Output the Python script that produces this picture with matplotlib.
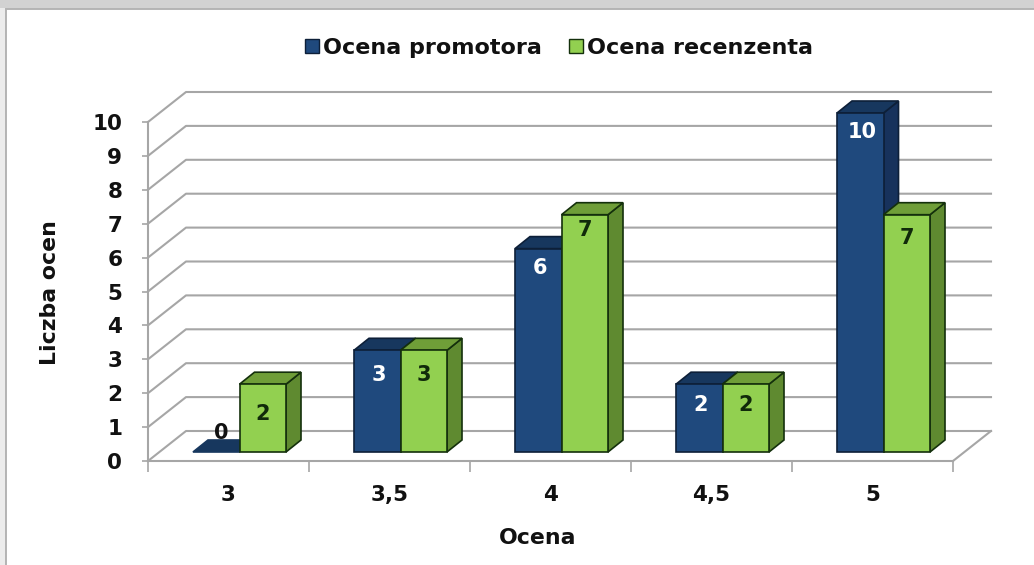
import matplotlib
matplotlib.use('Agg')
import matplotlib.pyplot as plt
from matplotlib.patches import Rectangle, Patch

plt.rcParams['font.family'] = ['DejaVu Sans']
plt.rcParams['font.weight'] = 'bold'

# Dane
oceny = ['3', '3,5', '4', '4,5', '5']
promotor = [0, 3, 6, 2, 10]
recenzent = [2, 3, 7, 2, 7]
y_ticks = [0, 1, 2, 3, 4, 5, 6, 7, 8, 9, 10]

W, H = 1034, 565
grid_c = '#a6a6a6'
text_c = '#111111'

# glebokosc sciany i slupkow (jednostki osi)
wall_dx = 38 / 161
wall_dy = 30 / 33.9
bar_w = 46.5 / 161
shift_x = 11 / 161
shift_y = 9 / 33.9
depth_x = 15 / 161
depth_y = 12 / 33.9

# ile pikseli pod gora slupka stoi etykieta
lab_b = [0, 25, 19, 21, 19]
lab_g = [30, 25, 15, 21, 23]

fig = plt.figure(figsize=(W / 100, H / 100), dpi=100, facecolor='#d2d2d2')

# tlo: jasniejszy pasek z lewej i biale pole z ramka
fig.patches.append(Rectangle((0, 0), 5 / W, 1 - 8 / H, transform=fig.transFigure,
                             facecolor='#ececec', edgecolor='none', zorder=-2))
fig.patches.append(Rectangle((6 / W, -0.01), 1.01, 1 - 9 / H + 0.01, transform=fig.transFigure,
                             facecolor='white', edgecolor='#b4b4b4', linewidth=1.4, zorder=-1))

ax = fig.add_axes([148 / W, 1 - 461 / H, (953 - 148) / W, (461 - 122) / H])
ax.patch.set_alpha(0)
ax.set_xlim(0, 5)
ax.set_ylim(0, 10)

for s in ['top', 'right']:
    ax.spines[s].set_visible(False)
for s in ['left', 'bottom']:
    ax.spines[s].set_color(grid_c)
    ax.spines[s].set_linewidth(1.5)

# linie siatki na scianie bocznej i tylnej
for v in y_ticks:
    ax.plot([0, wall_dx, 5 + wall_dx], [v, v + wall_dy, v + wall_dy],
            color=grid_c, lw=1.5, clip_on=False, zorder=1)
ax.plot([5, 5 + wall_dx], [0, wall_dy], color=grid_c, lw=1.5, clip_on=False, zorder=1)


def slupek(x0, val, front, top, side, edge, z):
    x1 = x0 + bar_w
    y0 = shift_y
    y1 = shift_y + val
    if val > 0:
        ax.fill([x1, x1 + depth_x, x1 + depth_x, x1],
                [y0, y0 + depth_y, y1 + depth_y, y1],
                facecolor=side, edgecolor=edge, lw=1.2, clip_on=False, zorder=z)
    ax.fill([x0, x1, x1 + depth_x, x0 + depth_x],
            [y1, y1, y1 + depth_y, y1 + depth_y],
            facecolor=top, edgecolor=edge if val > 0 else top, lw=1.2, clip_on=False, zorder=z)
    if val > 0:
        ax.fill([x0, x1, x1, x0], [y0, y0, y1, y1],
                facecolor=front, edgecolor=edge, lw=1.2, clip_on=False, zorder=z)


for i in range(len(oceny)):
    x_b = i + 0.5 + shift_x - bar_w
    x_g = i + 0.5 + shift_x
    slupek(x_b, promotor[i], '#1f497d', '#17375e', '#17325c', '#0d1f38', 3 + i * 2)
    slupek(x_g, recenzent[i], '#92d050', '#6f9e38', '#5f8a30', '#14300c', 4 + i * 2)
    # etykiety wartosci
    if promotor[i] > 0:
        ax.text(x_b + bar_w / 2 + 0.01, promotor[i] + shift_y - lab_b[i] / 33.9, str(promotor[i]), color='white',
                ha='center', va='center', fontsize=15, zorder=30)
    else:
        ax.text(x_b + bar_w / 2 + 0.03, shift_y + 0.55, '0', color=text_c,
                ha='center', va='center', fontsize=15, zorder=2)
    ax.text(x_g + bar_w / 2, recenzent[i] + shift_y - lab_g[i] / 33.9, str(recenzent[i]), color='#102a0a',
            ha='center', va='center', fontsize=15, zorder=30)

ax.set_yticks(y_ticks)
ax.set_xticks(range(6))
ax.set_xticklabels([])
ax.set_xticks([i + 0.5 for i in range(5)], minor=True)
ax.set_xticklabels(oceny, minor=True)
ax.tick_params(axis='y', length=4.5, width=1.2, color=grid_c, labelsize=15.5, pad=14, labelcolor=text_c)
ax.tick_params(axis='x', which='major', length=8, width=1.2, color=grid_c)
ax.tick_params(axis='x', which='minor', length=0, labelsize=15.5, pad=17, labelcolor=text_c)

ax.set_xlabel('Ocena', fontsize=15.8, color=text_c, fontweight='bold')
ax.xaxis.set_label_coords((538 - 148) / 805, -(538 - 461) / 339, transform=ax.transAxes)
ax.xaxis.label.set_va('center')
ax.set_ylabel('Liczba ocen', fontsize=15.8, color=text_c, fontweight='bold')
ax.yaxis.set_label_coords((50 - 148) / 805, (461 - 293) / 339, transform=ax.transAxes)
ax.yaxis.label.set_va('center')

handles = [Patch(facecolor='#1f497d', edgecolor='#0d1f38', label='Ocena promotora'),
           Patch(facecolor='#92d050', edgecolor='#14300c', label='Ocena recenzenta')]
fig.legend(handles=handles, ncols=2, frameon=False, loc='center',
           bbox_to_anchor=(559 / W, 1 - 48 / H), fontsize=16,
           handlelength=0.63, handleheight=0.63, handletextpad=0.2, columnspacing=1.2,
           labelcolor=text_c)

fig.savefig('out.png', dpi=100, facecolor=fig.get_facecolor())
